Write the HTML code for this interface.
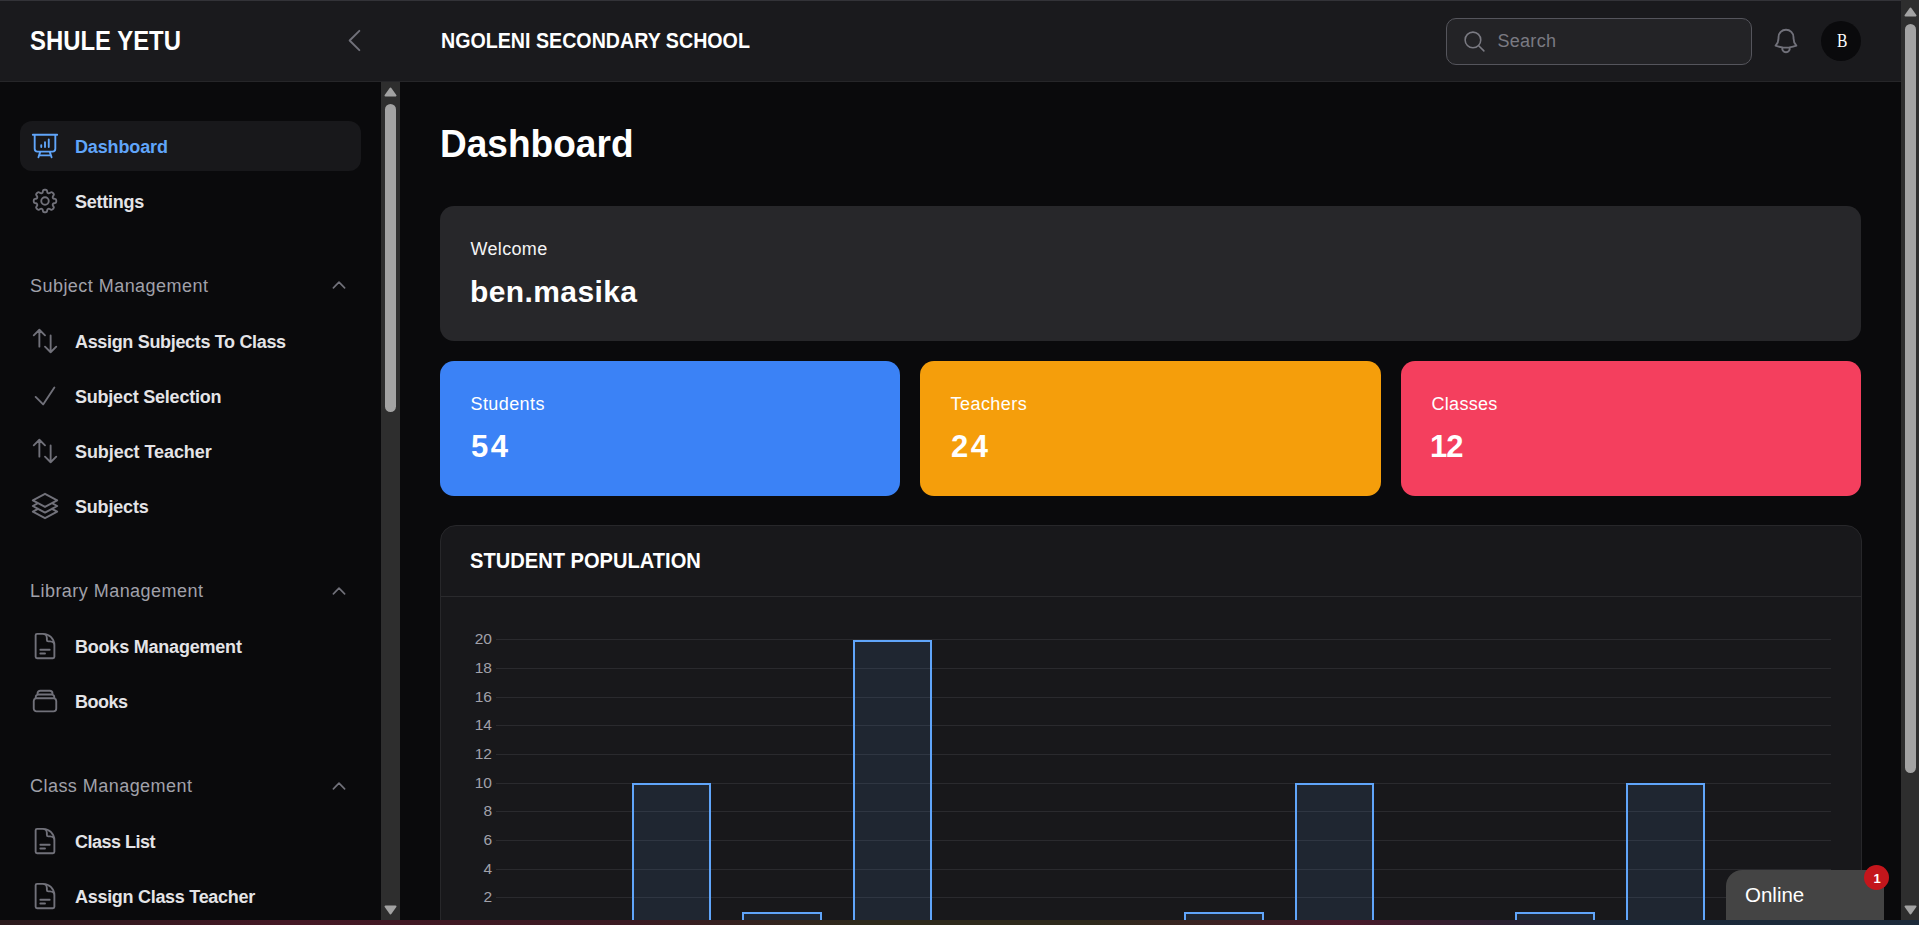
<!DOCTYPE html>
<html><head><meta charset="utf-8">
<style>
*{box-sizing:border-box;margin:0;padding:0}
html,body{width:1919px;height:925px;overflow:hidden;background:#09090b;font-family:"Liberation Sans",sans-serif;color:#fafafa}
.abs{position:absolute}
.t{position:absolute;white-space:nowrap;line-height:1}
svg{position:absolute;fill:none;stroke-linecap:round;stroke-linejoin:round;overflow:visible}
.sb{background:#2e2e2e}
.thumb{background:#a3a3a3;border-radius:6px}


</style></head>
<body>
<div class="abs" style="left:0;top:0;width:1919px;height:1px;background:#333338"></div>
<div class="abs" style="left:0;top:1px;width:1901px;height:81px;background:#1a1a1d;border-bottom:1px solid #262629"></div>
<div class="abs" style="left:0;top:82px;width:381px;height:838px;background:#0a0a0c"></div>
<div class="abs" style="left:400px;top:82px;width:1501px;height:838px;background:#0a0a0c"></div>
<div class="t" style="left:30px;top:27.94px;font-size:27px;font-weight:bold;color:#fff;letter-spacing:0px;font-family:'Liberation Sans',sans-serif;transform:scaleX(0.885);transform-origin:0 0;">SHULE YETU</div>
<svg style="left:339px;top:25px" width="31" height="31" viewBox="0 0 24 24" stroke="#71717a" stroke-width="1.5"><path d="M15.75 19.5 8.25 12l7.5-7.5"/></svg>
<div class="t" style="left:440.5px;top:29.58px;font-size:22px;font-weight:bold;color:#fff;letter-spacing:0px;font-family:'Liberation Sans',sans-serif;transform:scaleX(0.893);transform-origin:0 0;">NGOLENI SECONDARY SCHOOL</div>
<div class="abs" style="left:1446px;top:18px;width:306px;height:47px;border:1px solid #55555c;border-radius:10px;background:#232326"></div>
<svg style="left:1462px;top:29px" width="25" height="25" viewBox="0 0 24 24" stroke="#7a7a82" stroke-width="1.5"><path d="m21 21-5.197-5.197m0 0A7.5 7.5 0 1 0 5.196 5.196a7.5 7.5 0 0 0 10.607 10.607Z"/></svg>
<div class="t" style="left:1497.5px;top:31.86px;font-size:18px;font-weight:normal;color:#7a7a82;letter-spacing:0.28px;font-family:'Liberation Sans',sans-serif;">Search</div>
<svg style="left:1771px;top:26px" width="30" height="30" viewBox="0 0 24 24" stroke="#71717a" stroke-width="1.5"><path d="M14.857 17.082a23.848 23.848 0 0 0 5.454-1.31A8.967 8.967 0 0 1 18 9.75V9A6 6 0 0 0 6 9v.75a8.967 8.967 0 0 1-2.312 6.022c1.733.64 3.56 1.085 5.455 1.31m5.714 0a24.255 24.255 0 0 1-5.714 0m5.714 0a3 3 0 1 1-5.714 0"/></svg>
<div class="abs" style="left:1821px;top:21px;width:40px;height:40px;border-radius:50%;background:#0a0a0c"></div>
<div class="t" style="left:1836.6px;top:30.69px;font-size:19.5px;font-weight:normal;color:#fff;letter-spacing:0px;font-family:'Liberation Serif',serif;transform:scaleX(0.8);transform-origin:0 0;">B</div>
<div class="abs" style="left:20px;top:121px;width:341px;height:50px;border-radius:12px;background:#18181b"></div>
<svg style="left:30px;top:131px" width="30" height="30" viewBox="0 0 24 24" stroke="#60a5fa" stroke-width="1.5"><path d="M3.75 3v11.25A2.25 2.25 0 0 0 6 16.5h2.25M3.75 3h-1.5m1.5 0h16.5m0 0h1.5m-1.5 0v11.25A2.25 2.25 0 0 1 18 16.5h-2.25m-7.5 0h7.5m-7.5 0-1 3m8.5-3 1 3m0 0 .5 1.5m-.5-1.5h-9.5m0 0-.5 1.5M9 11.25v1.5M12 9v3.75m3-6v6"/></svg>
<div class="t" style="left:75px;top:138.06px;font-size:18px;font-weight:bold;color:#60a5fa;letter-spacing:-0.14px;font-family:'Liberation Sans',sans-serif;">Dashboard</div>
<svg style="left:30px;top:186px" width="30" height="30" viewBox="0 0 24 24" stroke="#71717a" stroke-width="1.5"><path d="M10.343 3.94c.09-.542.56-.94 1.11-.94h1.093c.55 0 1.02.398 1.11.94l.149.894c.07.424.384.764.78.93.398.164.855.142 1.205-.108l.737-.527a1.125 1.125 0 0 1 1.45.12l.773.774c.39.389.44 1.002.12 1.45l-.527.737c-.25.35-.272.806-.107 1.204.165.397.505.71.93.78l.893.15c.543.09.94.559.94 1.109v1.094c0 .55-.397 1.02-.94 1.11l-.894.149c-.424.07-.764.383-.929.78-.165.398-.143.854.107 1.204l.527.738c.32.447.269 1.06-.12 1.45l-.774.773a1.125 1.125 0 0 1-1.449.12l-.738-.527c-.35-.25-.806-.272-1.203-.107-.398.165-.71.505-.781.929l-.149.894c-.09.542-.56.94-1.11.94h-1.094c-.55 0-1.019-.398-1.11-.94l-.148-.894c-.071-.424-.384-.764-.781-.93-.398-.164-.854-.142-1.204.108l-.738.527c-.447.32-1.06.269-1.45-.12l-.773-.774a1.125 1.125 0 0 1-.12-1.45l.527-.737c.25-.35.272-.806.108-1.204-.165-.397-.506-.71-.93-.78l-.894-.15c-.542-.09-.94-.56-.94-1.109v-1.094c0-.55.398-1.02.94-1.11l.894-.149c.424-.07.765-.383.93-.78.165-.398.143-.854-.108-1.204l-.526-.738a1.125 1.125 0 0 1 .12-1.45l.773-.773a1.125 1.125 0 0 1 1.45-.12l.737.527c.35.25.807.272 1.204.107.397-.165.71-.505.78-.929l.15-.894Z M15 12a3 3 0 1 1-6 0 3 3 0 0 1 6 0Z"/></svg>
<div class="t" style="left:75px;top:192.76px;font-size:18px;font-weight:bold;color:#e4e4e7;letter-spacing:-0.25px;font-family:'Liberation Sans',sans-serif;">Settings</div>
<svg style="left:30px;top:326px" width="30" height="30" viewBox="0 0 24 24" stroke="#71717a" stroke-width="1.5"><path d="M3 7.5 7.5 3m0 0L12 7.5M7.5 3v13.5m13.5 0L16.5 21m0 0L12 16.5m4.5 4.5V7.5"/></svg>
<div class="t" style="left:75px;top:332.76px;font-size:18px;font-weight:bold;color:#e4e4e7;letter-spacing:-0.33px;font-family:'Liberation Sans',sans-serif;">Assign Subjects To Class</div>
<svg style="left:30px;top:381px" width="30" height="30" viewBox="0 0 24 24" stroke="#71717a" stroke-width="1.5"><path d="m4.5 12.75 6 6 9-13.5"/></svg>
<div class="t" style="left:75px;top:387.76px;font-size:18px;font-weight:bold;color:#e4e4e7;letter-spacing:-0.22px;font-family:'Liberation Sans',sans-serif;">Subject Selection</div>
<svg style="left:30px;top:436px" width="30" height="30" viewBox="0 0 24 24" stroke="#71717a" stroke-width="1.5"><path d="M3 7.5 7.5 3m0 0L12 7.5M7.5 3v13.5m13.5 0L16.5 21m0 0L12 16.5m4.5 4.5V7.5"/></svg>
<div class="t" style="left:75px;top:442.76px;font-size:18px;font-weight:bold;color:#e4e4e7;letter-spacing:-0.07px;font-family:'Liberation Sans',sans-serif;">Subject Teacher</div>
<svg style="left:30px;top:491px" width="30" height="30" viewBox="0 0 24 24" stroke="#71717a" stroke-width="1.5"><path d="M6.429 9.75 2.25 12l4.179 2.25m0-4.5 5.571 3 5.571-3m-11.142 0L2.25 7.5 12 2.25l9.75 5.25-4.179 2.25m0 0L21.75 12l-4.179 2.25m0 0 4.179 2.25L12 21.75 2.25 16.5l4.179-2.25m11.142 0-5.571 3-5.571-3"/></svg>
<div class="t" style="left:75px;top:497.96px;font-size:18px;font-weight:bold;color:#e4e4e7;letter-spacing:-0.19px;font-family:'Liberation Sans',sans-serif;">Subjects</div>
<svg style="left:30px;top:631px" width="30" height="30" viewBox="0 0 24 24" stroke="#71717a" stroke-width="1.5"><path d="M19.5 14.25v-2.625a3.375 3.375 0 0 0-3.375-3.375h-1.5A1.125 1.125 0 0 1 13.5 7.125v-1.5a3.375 3.375 0 0 0-3.375-3.375H8.25m0 12.75h7.5m-7.5 3H12M10.5 2.25H5.625c-.621 0-1.125.504-1.125 1.125v17.25c0 .621.504 1.125 1.125 1.125h12.75c.621 0 1.125-.504 1.125-1.125V11.25a9 9 0 0 0-9-9Z"/></svg>
<div class="t" style="left:75px;top:637.76px;font-size:18px;font-weight:bold;color:#e4e4e7;letter-spacing:-0.21px;font-family:'Liberation Sans',sans-serif;">Books Management</div>
<svg style="left:30px;top:686px" width="30" height="30" viewBox="0 0 24 24" stroke="#71717a" stroke-width="1.5"><path d="M6 6.878V6a2.25 2.25 0 0 1 2.25-2.25h7.5A2.25 2.25 0 0 1 18 6v.878m-12 0c.235-.083.487-.128.75-.128h10.5c.263 0 .515.045.75.128m-12 0A2.25 2.25 0 0 0 4.5 9v.878m13.5-3A2.25 2.25 0 0 1 19.5 9v.878m0 0a2.246 2.246 0 0 0-.75-.128H5.25c-.263 0-.515.045-.75.128m15 0A2.25 2.25 0 0 1 21 12v6a2.25 2.25 0 0 1-2.25 2.25H5.25A2.25 2.25 0 0 1 3 18v-6c0-.98.626-1.813 1.5-2.122"/></svg>
<div class="t" style="left:75px;top:692.96px;font-size:18px;font-weight:bold;color:#e4e4e7;letter-spacing:-0.5px;font-family:'Liberation Sans',sans-serif;">Books</div>
<svg style="left:30px;top:826px" width="30" height="30" viewBox="0 0 24 24" stroke="#71717a" stroke-width="1.5"><path d="M19.5 14.25v-2.625a3.375 3.375 0 0 0-3.375-3.375h-1.5A1.125 1.125 0 0 1 13.5 7.125v-1.5a3.375 3.375 0 0 0-3.375-3.375H8.25m0 12.75h7.5m-7.5 3H12M10.5 2.25H5.625c-.621 0-1.125.504-1.125 1.125v17.25c0 .621.504 1.125 1.125 1.125h12.75c.621 0 1.125-.504 1.125-1.125V11.25a9 9 0 0 0-9-9Z"/></svg>
<div class="t" style="left:75px;top:832.76px;font-size:18px;font-weight:bold;color:#e4e4e7;letter-spacing:-0.5px;font-family:'Liberation Sans',sans-serif;">Class List</div>
<svg style="left:30px;top:881px" width="30" height="30" viewBox="0 0 24 24" stroke="#71717a" stroke-width="1.5"><path d="M19.5 14.25v-2.625a3.375 3.375 0 0 0-3.375-3.375h-1.5A1.125 1.125 0 0 1 13.5 7.125v-1.5a3.375 3.375 0 0 0-3.375-3.375H8.25m0 12.75h7.5m-7.5 3H12M10.5 2.25H5.625c-.621 0-1.125.504-1.125 1.125v17.25c0 .621.504 1.125 1.125 1.125h12.75c.621 0 1.125-.504 1.125-1.125V11.25a9 9 0 0 0-9-9Z"/></svg>
<div class="t" style="left:75px;top:887.76px;font-size:18px;font-weight:bold;color:#e4e4e7;letter-spacing:-0.29px;font-family:'Liberation Sans',sans-serif;">Assign Class Teacher</div>
<div class="t" style="left:30px;top:276.86px;font-size:18px;font-weight:normal;color:#a1a1aa;letter-spacing:0.46px;font-family:'Liberation Sans',sans-serif;">Subject Management</div>
<svg style="left:329.5px;top:276.4px" width="18" height="18" viewBox="0 0 24 24" stroke="#71717a" stroke-width="2.2"><path d="m4.5 15.75 7.5-7.5 7.5 7.5"/></svg>
<div class="t" style="left:30px;top:582.06px;font-size:18px;font-weight:normal;color:#a1a1aa;letter-spacing:0.46px;font-family:'Liberation Sans',sans-serif;">Library Management</div>
<svg style="left:329.5px;top:581.6px" width="18" height="18" viewBox="0 0 24 24" stroke="#71717a" stroke-width="2.2"><path d="m4.5 15.75 7.5-7.5 7.5 7.5"/></svg>
<div class="t" style="left:30px;top:777.06px;font-size:18px;font-weight:normal;color:#a1a1aa;letter-spacing:0.46px;font-family:'Liberation Sans',sans-serif;">Class Management</div>
<svg style="left:329.5px;top:776.6px" width="18" height="18" viewBox="0 0 24 24" stroke="#71717a" stroke-width="2.2"><path d="m4.5 15.75 7.5-7.5 7.5 7.5"/></svg>
<div class="abs sb" style="left:381px;top:82px;width:19px;height:838px"></div>
<svg style="left:384px;top:87px" width="13" height="10" viewBox="0 0 13 10"><path d="M6.5 1.5 L11.5 8.5 L1.5 8.5 Z" fill="#a3a3a3" stroke="#a3a3a3" stroke-width="2"/></svg>
<div class="abs thumb" style="left:385px;top:104px;width:11px;height:308px"></div>
<svg style="left:384px;top:905px" width="13" height="10" viewBox="0 0 13 10"><path d="M1.5 1.5 L11.5 1.5 L6.5 8.5 Z" fill="#a3a3a3" stroke="#a3a3a3" stroke-width="2"/></svg>
<div class="t" style="left:440px;top:125.03px;font-size:38px;font-weight:bold;color:#fff;letter-spacing:0px;font-family:'Liberation Sans',sans-serif;transform:scaleX(0.975);transform-origin:0 0;">Dashboard</div>
<div class="abs" style="left:440px;top:206px;width:1421px;height:135px;border-radius:14px;background:#27272a"></div>
<div class="t" style="left:470.5px;top:239.76px;font-size:18px;font-weight:normal;color:#f4f4f5;letter-spacing:0.33px;font-family:'Liberation Sans',sans-serif;">Welcome</div>
<div class="t" style="left:470px;top:276.71px;font-size:30px;font-weight:bold;color:#fff;letter-spacing:0.4px;font-family:'Liberation Sans',sans-serif;">ben.masika</div>
<div class="abs" style="left:440px;top:361px;width:460px;height:135px;border-radius:14px;background:#3b82f6"></div>
<div class="t" style="left:470.5px;top:394.76px;font-size:18px;font-weight:normal;color:#fff;letter-spacing:0.41px;font-family:'Liberation Sans',sans-serif;">Students</div>
<div class="t" style="left:471px;top:430.96px;font-size:31px;font-weight:bold;color:#fff;letter-spacing:2.5px;font-family:'Liberation Sans',sans-serif;">54</div>
<div class="abs" style="left:920px;top:361px;width:461px;height:135px;border-radius:14px;background:#f59e0b"></div>
<div class="t" style="left:950.5px;top:394.76px;font-size:18px;font-weight:normal;color:#fff;letter-spacing:0.46px;font-family:'Liberation Sans',sans-serif;">Teachers</div>
<div class="t" style="left:951px;top:430.96px;font-size:31px;font-weight:bold;color:#fff;letter-spacing:2.5px;font-family:'Liberation Sans',sans-serif;">24</div>
<div class="abs" style="left:1401px;top:361px;width:460px;height:135px;border-radius:14px;background:#f43f5e"></div>
<div class="t" style="left:1431.5px;top:394.76px;font-size:18px;font-weight:normal;color:#fff;letter-spacing:0.29px;font-family:'Liberation Sans',sans-serif;">Classes</div>
<div class="t" style="left:1430px;top:430.96px;font-size:31px;font-weight:bold;color:#fff;letter-spacing:-1px;font-family:'Liberation Sans',sans-serif;">12</div>
<div class="abs" style="left:440px;top:525px;width:1422px;height:420px;border-radius:16px;background:#18181b;border:1px solid #27272a"></div>
<div class="abs" style="left:441px;top:596px;width:1420px;height:1px;background:#2a2a2d"></div>
<div class="t" style="left:470px;top:549.68px;font-size:22px;font-weight:bold;color:#fff;letter-spacing:0px;font-family:'Liberation Sans',sans-serif;transform:scaleX(0.914);transform-origin:0 0;">STUDENT POPULATION</div>
<div class="abs" style="left:496px;top:897px;width:1335px;height:1px;background:#2a2a2e"></div>
<div class="t" style="left:0px;top:888.88px;font-size:15.5px;font-weight:normal;color:#a1a1aa;letter-spacing:0px;font-family:'Liberation Sans',sans-serif;width:492px;text-align:right">2</div>
<div class="abs" style="left:496px;top:869px;width:1335px;height:1px;background:#2a2a2e"></div>
<div class="t" style="left:0px;top:860.88px;font-size:15.5px;font-weight:normal;color:#a1a1aa;letter-spacing:0px;font-family:'Liberation Sans',sans-serif;width:492px;text-align:right">4</div>
<div class="abs" style="left:496px;top:840px;width:1335px;height:1px;background:#2a2a2e"></div>
<div class="t" style="left:0px;top:831.88px;font-size:15.5px;font-weight:normal;color:#a1a1aa;letter-spacing:0px;font-family:'Liberation Sans',sans-serif;width:492px;text-align:right">6</div>
<div class="abs" style="left:496px;top:811px;width:1335px;height:1px;background:#2a2a2e"></div>
<div class="t" style="left:0px;top:802.88px;font-size:15.5px;font-weight:normal;color:#a1a1aa;letter-spacing:0px;font-family:'Liberation Sans',sans-serif;width:492px;text-align:right">8</div>
<div class="abs" style="left:496px;top:783px;width:1335px;height:1px;background:#2a2a2e"></div>
<div class="t" style="left:0px;top:774.88px;font-size:15.5px;font-weight:normal;color:#a1a1aa;letter-spacing:0px;font-family:'Liberation Sans',sans-serif;width:492px;text-align:right">10</div>
<div class="abs" style="left:496px;top:754px;width:1335px;height:1px;background:#2a2a2e"></div>
<div class="t" style="left:0px;top:745.88px;font-size:15.5px;font-weight:normal;color:#a1a1aa;letter-spacing:0px;font-family:'Liberation Sans',sans-serif;width:492px;text-align:right">12</div>
<div class="abs" style="left:496px;top:725px;width:1335px;height:1px;background:#2a2a2e"></div>
<div class="t" style="left:0px;top:716.88px;font-size:15.5px;font-weight:normal;color:#a1a1aa;letter-spacing:0px;font-family:'Liberation Sans',sans-serif;width:492px;text-align:right">14</div>
<div class="abs" style="left:496px;top:697px;width:1335px;height:1px;background:#2a2a2e"></div>
<div class="t" style="left:0px;top:688.88px;font-size:15.5px;font-weight:normal;color:#a1a1aa;letter-spacing:0px;font-family:'Liberation Sans',sans-serif;width:492px;text-align:right">16</div>
<div class="abs" style="left:496px;top:668px;width:1335px;height:1px;background:#2a2a2e"></div>
<div class="t" style="left:0px;top:659.88px;font-size:15.5px;font-weight:normal;color:#a1a1aa;letter-spacing:0px;font-family:'Liberation Sans',sans-serif;width:492px;text-align:right">18</div>
<div class="abs" style="left:496px;top:639px;width:1335px;height:1px;background:#2a2a2e"></div>
<div class="t" style="left:0px;top:630.88px;font-size:15.5px;font-weight:normal;color:#a1a1aa;letter-spacing:0px;font-family:'Liberation Sans',sans-serif;width:492px;text-align:right">20</div>
<div class="abs" style="left:631.7px;top:783px;width:79.5px;height:147px;background:rgba(96,165,250,0.1);border:2px solid #60a5fa;border-bottom:none"></div>
<div class="abs" style="left:742.2px;top:912px;width:79.5px;height:18px;background:rgba(96,165,250,0.1);border:2px solid #60a5fa;border-bottom:none"></div>
<div class="abs" style="left:852.7px;top:640px;width:79.5px;height:290px;background:rgba(96,165,250,0.1);border:2px solid #60a5fa;border-bottom:none"></div>
<div class="abs" style="left:1184.0px;top:912px;width:79.5px;height:18px;background:rgba(96,165,250,0.1);border:2px solid #60a5fa;border-bottom:none"></div>
<div class="abs" style="left:1294.5px;top:783px;width:79.5px;height:147px;background:rgba(96,165,250,0.1);border:2px solid #60a5fa;border-bottom:none"></div>
<div class="abs" style="left:1515.4px;top:912px;width:79.5px;height:18px;background:rgba(96,165,250,0.1);border:2px solid #60a5fa;border-bottom:none"></div>
<div class="abs" style="left:1625.9px;top:783px;width:79.5px;height:147px;background:rgba(96,165,250,0.1);border:2px solid #60a5fa;border-bottom:none"></div>
<div class="abs" style="left:1726px;top:870px;width:158px;height:60px;background:#444;border-radius:16px 0 0 0"></div>
<div class="t" style="left:1745px;top:884.65px;font-size:20.5px;font-weight:normal;color:#fff;letter-spacing:0px;font-family:'Liberation Sans',sans-serif;">Online</div>
<div class="abs" style="left:1864px;top:865px;width:25px;height:25px;border-radius:50%;background:#c4161c"></div>
<div class="t" style="left:1864.5px;top:871.50px;font-size:13px;font-weight:bold;color:#fff;letter-spacing:0px;font-family:'Liberation Sans',sans-serif;width:25px;text-align:center">1</div>
<div class="abs sb" style="left:1901px;top:0;width:18px;height:920px"></div>
<svg style="left:1904px;top:7px" width="13" height="10" viewBox="0 0 13 10"><path d="M6.5 1.5 L11.5 8.5 L1.5 8.5 Z" fill="#a3a3a3" stroke="#a3a3a3" stroke-width="2"/></svg>
<div class="abs thumb" style="left:1905px;top:24px;width:11px;height:749px"></div>
<svg style="left:1904px;top:905px" width="13" height="10" viewBox="0 0 13 10"><path d="M1.5 1.5 L11.5 1.5 L6.5 8.5 Z" fill="#a3a3a3" stroke="#a3a3a3" stroke-width="2"/></svg>
<div class="abs" style="left:0;top:920px;width:1919px;height:5px;background:linear-gradient(90deg,#2a1a1c 0%,#451825 15%,#3a1a22 33%,#2e2a1c 45%,#2e2a1c 57%,#4a1a2a 70%,#2a2030 78%,#1a2838 85%,#1c2a3a 100%)"></div>
</body></html>
